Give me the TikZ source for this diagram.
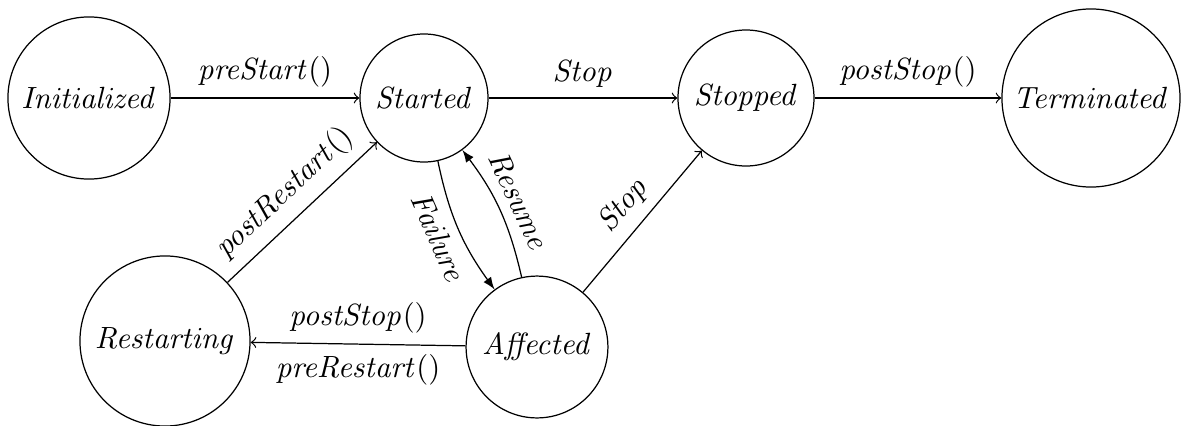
\documentclass[tikz,border=0pt]{standalone}
\begin{document}
\begin{tikzpicture}[x=0.3257pt,y=-0.3257pt,
  state/.style={draw,circle,inner sep=1pt},
  trans/.style={->},
  bent/.style={-latex}]
\useasboundingbox (0,0) rectangle (1186,426);
% states
\node[state,minimum size=52.8pt] (init) at (89,98)   {$\mathit{Initialized}$};
\node[state,minimum size=41.7pt] (start) at (424,98) {$\mathit{Started}$};
\node[state,minimum size=44.3pt] (stop) at (746,98)  {$\mathit{Stopped}$};
\node[state,minimum size=58pt] (term) at (1091,98)   {$\mathit{Terminated}$};
\node[state,minimum size=55.4pt] (rest) at (165,341) {$\mathit{Restarting}$};
\node[state,minimum size=46.2pt] (aff) at (537,347)  {$\mathit{Affected}$};
% transitions
\draw[trans] (init) -- node[above] {$\mathit{preStart()}$} (start);
\draw[trans] (start) -- node[above] {$\mathit{Stop}$} (stop);
\draw[trans] (stop) -- node[above] {$\mathit{postStop()}$} (term);
\draw[bent] (start) to[bend right=12] node[below,sloped] {$\mathit{Failure}$} (aff);
\draw[bent] (aff) to[bend right=12] node[above,sloped] {$\mathit{Resume}$} (start);
\draw[trans] (aff) -- node[above,sloped] {$\mathit{Stop}$} (stop);
\draw[trans] (rest) -- node[above,sloped] {$\mathit{postRestart()}$} (start);
\draw[trans] (aff) -- node[above] {$\mathit{postStop()}$} node[below] {$\mathit{preRestart()}$} (rest);
\end{tikzpicture}
\end{document}
